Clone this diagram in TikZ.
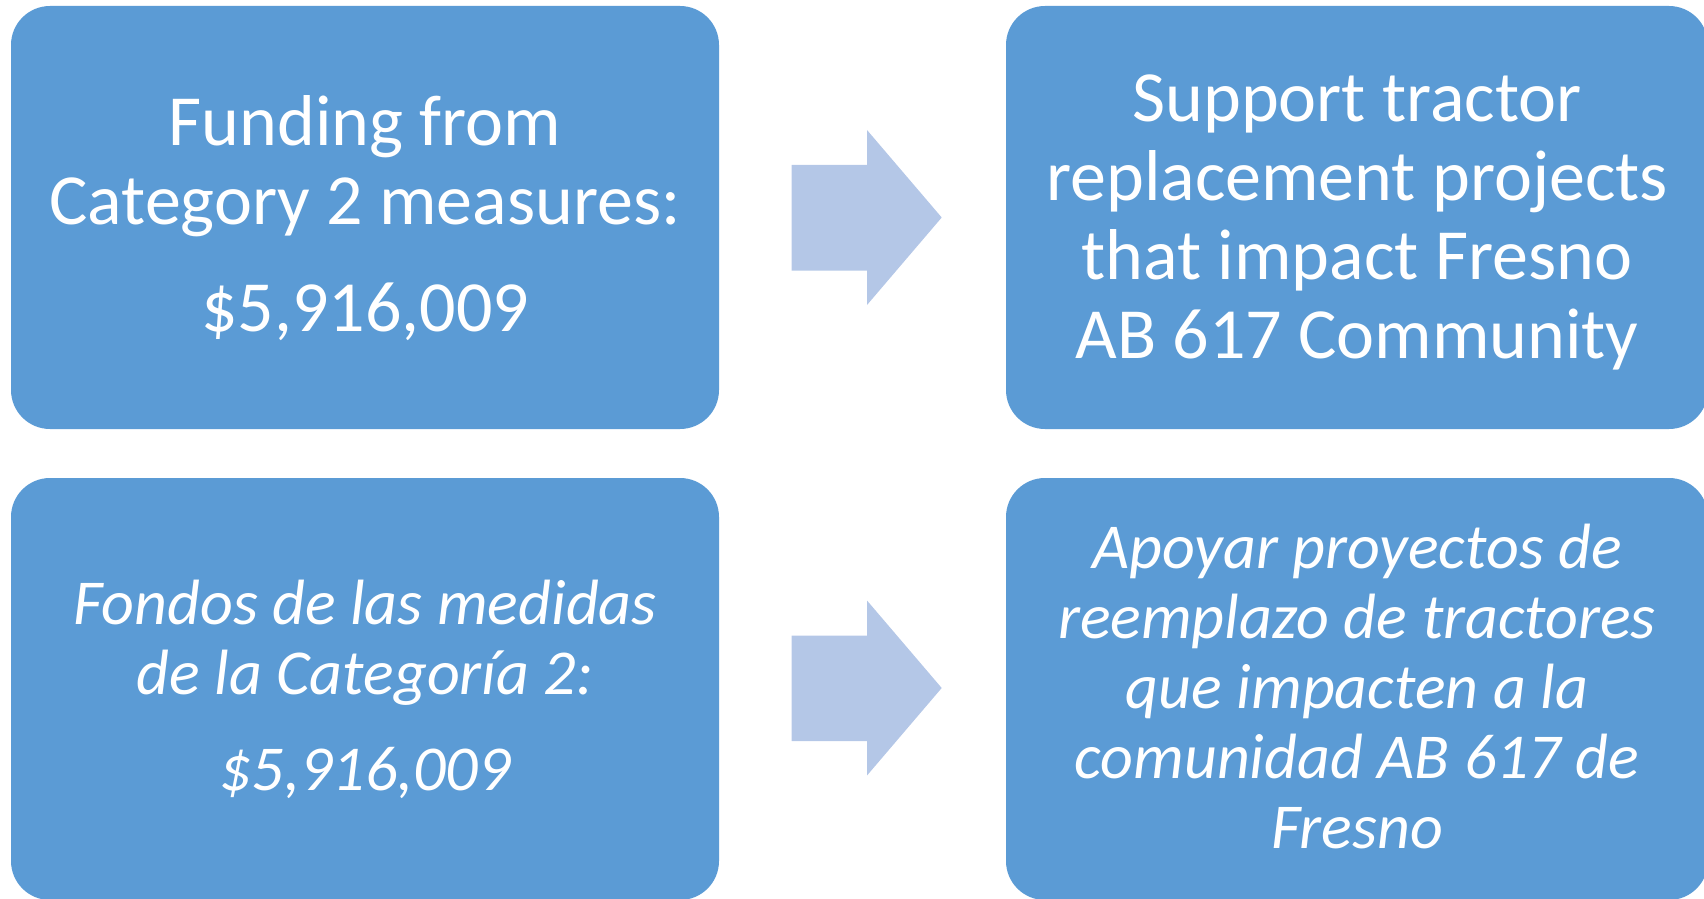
\documentclass[tikz,border=0pt]{standalone}
\usepackage{fontspec}
\setmainfont{Carlito}
\usepackage{tikz}
\definecolor{boxblue}{HTML}{5B9BD5}
\definecolor{arrowblue}{HTML}{B4C7E7}
\tikzset{
  box/.style={fill=boxblue, rounded corners=19.5pt},
  flow/.style={fill=arrowblue},
  entxt/.style={text=white, align=center, font=\fontsize{36}{39.5}\selectfont},
  estxt/.style={text=white, align=center, font=\fontsize{32}{35}\selectfont\itshape}
}
\begin{document}
\begin{tikzpicture}[x=0.5pt, y=-0.5pt]
  \useasboundingbox (0,0) rectangle (1704,899);
  % english row
  \fill[box] (11,6) rectangle (719,429);
  \fill[box] (1006,6) rectangle (1708,429);
  \fill[flow] (791.7,165) -- (867,165) -- (867,130) -- (941.7,217.5) -- (867,305) -- (867,270.7) -- (791.7,270.7) -- cycle;
  \node[entxt] (fund) at (365,218.5) {Funding from\\Category 2 measures:\\[14pt]\$5,916,009};
  \node[entxt] (supp) at (1357,222) {Support tractor\\replacement projects\\that impact Fresno\\AB 617 Community};
  % spanish row
  \fill[box] (11,478) rectangle (719,900);
  \fill[box] (1006,478) rectangle (1708,900);
  \fill[flow] (791.7,635.5) -- (867,635.5) -- (867,600.5) -- (941.7,688) -- (867,775.5) -- (867,741.2) -- (791.7,741.2) -- cycle;
  \node[estxt] (fondos) at (365,689.5) {Fondos de las medidas\\de la Categoría 2:\\[12.7pt]\$5,916,009};
  \node[estxt] (apoyar) at (1357,686.7) {Apoyar proyectos de\\reemplazo de tractores\\que impacten a la\\comunidad AB 617 de\\Fresno};
\end{tikzpicture}
\end{document}
